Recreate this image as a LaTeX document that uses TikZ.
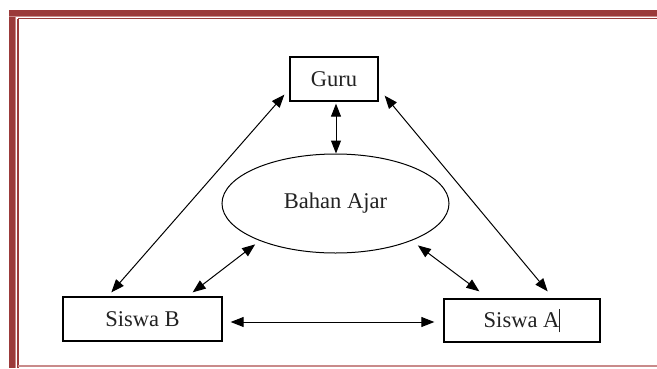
\documentclass[tikz,border=0pt]{standalone}
\usepackage{fontspec}
\setmainfont{Liberation Serif}
\usetikzlibrary{arrows.meta,shapes.geometric,calc}
\definecolor{framered}{HTML}{9B3A3A}
\definecolor{framepink}{HTML}{C98A8A}
\definecolor{txt}{HTML}{222222}
\tikzset{
  boxnode/.style={draw=black,line width=1.3pt,minimum height=44pt,inner sep=0pt,
    text=txt,font=\fontsize{22.5}{27}\selectfont},
  ellnode/.style={draw=black,ellipse,line width=1pt,inner sep=0pt,
    text=txt,font=\fontsize{22.5}{27}\selectfont},
  link/.style={line width=1pt,{Triangle[length=13pt,width=10pt]}-{Triangle[length=13pt,width=10pt]}}
}
\begin{document}
\begin{tikzpicture}[x=1pt,y=-1pt]
\useasboundingbox (0,0) rectangle (657,368);
\fill[white] (0,0) rectangle (657,368);
% frame
\fill[framered] (9,10) rectangle (657,15.5);
\fill[framered] (9,10) rectangle (14.5,368);
\fill[framepink] (9,15.5) rectangle (657,17);
\fill[framepink] (14.5,15.5) rectangle (16,368);
\draw[framered,line width=1.6pt] (18,18.5) -- (657,18.5);
\draw[framered,line width=1.6pt] (18,18.5) -- (18,368);
\draw[framepink,line width=1.4pt] (18,366) -- (657,366);
% nodes
\node[boxnode,minimum width=88pt] (guru) at (334,79) {Guru};
\node[ellnode,minimum width=227pt,minimum height=99pt] (bah) at (335.5,203.5) {Bahan Ajar};
\node[boxnode,minimum width=159pt] (sb) at (142.5,319) {Siswa B};
\node[boxnode,minimum width=156pt,minimum height=43pt] (sa) at (522,320.5) {Siswa A\rule[-0.2em]{0.9pt}{1.05em}};
% connectors
\draw[link] ([xshift=-5pt,yshift=7pt]guru.south west) -- ([xshift=49pt,yshift=4pt]sb.north west);
\draw[link] ([xshift=6pt,yshift=6pt]guru.south east) -- ([xshift=-53pt,yshift=7pt]sa.north east);
\draw[link] ([xshift=2pt,yshift=-2pt]guru.south) -- ([xshift=0.5pt]bah.north);
\draw[link] ([xshift=-6pt,yshift=-3pt]bah.207) -- ([xshift=-30pt,yshift=4pt]sb.north east);
\draw[link] ([xshift=8pt,yshift=-4pt]bah.333) -- ([xshift=36pt,yshift=7pt]sa.north west);
\draw[link] ([xshift=8pt,yshift=-3pt]sb.east) -- ([xshift=-9pt,yshift=-1.5pt]sa.west);
\end{tikzpicture}
\end{document}
